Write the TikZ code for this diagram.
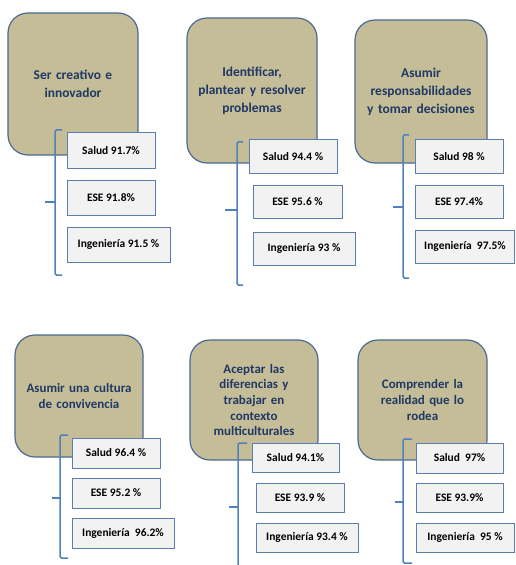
\documentclass[tikz,border=0pt]{standalone}
\usepackage{fontspec}
\setmainfont{Carlito}
\definecolor{tanfill}{HTML}{C4BD97}
\definecolor{tanborder}{HTML}{4A6A92}
\definecolor{titletext}{HTML}{1F3864}
\definecolor{brk}{HTML}{4F81BD}
\definecolor{smallfill}{HTML}{F2F2F2}
\definecolor{smallborder}{HTML}{5B7DB1}
\tikzset{
  titlebox/.style={draw=tanborder, fill=tanfill, line width=1.2bp, rounded corners=20bp,
    align=center, text=titletext, inner sep=2bp, text width=118bp},
  toptitle/.style={titlebox, font=\bfseries\fontsize{13.5}{18}\selectfont},
  bottitle/.style={titlebox, font=\bfseries\fontsize{13}{15.8}\selectfont},
  smallbox/.style={draw=smallborder, fill=smallfill, line width=1bp, inner sep=0pt,
    font=\bfseries\fontsize{11.5}{13}\selectfont, text=black},
  brkline/.style={draw=brk, line width=1.5bp, rounded corners=1.5bp},
}
\newcommand\mybracket[7]{% name, x, top, bottom, mid, right end, left end
  \coordinate (#1t) at (#6,#3);
  \coordinate (#1tc) at (#2,#3);
  \coordinate (#1bc) at (#2,#4);
  \coordinate (#1b) at (#6,#4);
  \coordinate (#1mc) at (#2,#5);
  \coordinate (#1m) at (#7,#5);
  \draw[brkline] (#1t) -- (#1tc) -- (#1bc) -- (#1b);
  \draw[brkline] (#1mc) -- (#1m);
}
\begin{document}
\begin{tikzpicture}[x=1bp, y=-1bp]
\useasboundingbox (0,0) rectangle (516,565);

% ---------- Group 1
\node[toptitle, minimum width=130bp, minimum height=142bp] (t1) at (73,84) {Ser creativo e\\innovador};
\mybracket{k1}{55}{130}{275}{202}{62}{45}
\node[smallbox, minimum width=88bp, minimum height=35bp] (s1) at (111,150.5) {Salud 91.7\%};
\node[smallbox, minimum width=88bp, minimum height=35bp] (e1) at (111,197.5) {ESE 91.8\%};
\node[smallbox, minimum width=103bp, minimum height=35bp] (i1) at (118.5,244.5) {Ingeniería 91.5 \%};

% ---------- Group 2
\node[toptitle, minimum width=130bp, minimum height=145bp] (t2) at (252,90.5) {Identificar,\\plantear y resolver\\problemas};
\mybracket{k2}{237}{142}{285}{210}{243}{225}
\node[smallbox, minimum width=88bp, minimum height=33bp] (s2) at (293,156.5) {Salud 94.4 \%};
\node[smallbox, minimum width=89bp, minimum height=33bp] (e2) at (297.5,201.5) {ESE 95.6 \%};
\node[smallbox, minimum width=102bp, minimum height=33bp] (i2) at (304,248.5) {Ingeniería 93 \%};

% ---------- Group 3
\node[toptitle, minimum width=132bp, minimum height=143bp] (t3) at (421,91.5) {Asumir\\responsabilidades\\y tomar decisiones};
\mybracket{k3}{403}{135}{278}{207}{409}{393}
\node[smallbox, minimum width=88bp, minimum height=33bp] (s3) at (459,156.5) {Salud 98 \%};
\node[smallbox, minimum width=88bp, minimum height=33bp] (e3) at (459,201.5) {ESE 97.4\%};
\node[smallbox, minimum width=99bp, minimum height=33bp] (i3) at (465,246.5) {Ingeniería\ \ 97.5\%};

% ---------- Group 4
\node[bottitle, minimum width=128bp, minimum height=122bp] (t4) at (79,396) {Asumir una cultura\\de convivencia};
\mybracket{k4}{60}{435}{558}{498}{68}{52}
\node[smallbox, minimum width=88bp, minimum height=30bp] (s4) at (116,453) {Salud 96.4 \%};
\node[smallbox, minimum width=88bp, minimum height=30bp] (e4) at (116,493) {ESE 95.2 \%};
\node[smallbox, minimum width=102bp, minimum height=30bp] (i4) at (123,533) {Ingeniería\ \ 96.2\%};

% ---------- Group 5
\node[bottitle, minimum width=128bp, minimum height=120bp] (t5) at (254,400) {Aceptar las\\diferencias y\\trabajar en\\contexto\\multiculturales};
\mybracket{k5}{238}{443}{570}{507}{247}{229}
\node[smallbox, minimum width=87bp, minimum height=29bp] (s5) at (295.5,457.5) {Salud 94.1\%};
\node[smallbox, minimum width=88bp, minimum height=29bp] (e5) at (300,497.5) {ESE 93.9 \%};
\node[smallbox, minimum width=102bp, minimum height=29bp] (i5) at (307,537.5) {Ingeniería 93.4 \%};

% ---------- Group 6
\node[bottitle, minimum width=129bp, minimum height=120bp] (t6) at (422.5,400) {Comprender la\\realidad que lo\\rodea};
\mybracket{k6}{403}{439}{563}{502}{412}{395}
\node[smallbox, minimum width=87bp, minimum height=30bp] (s6) at (459.5,458) {Salud\ \ 97\%};
\node[smallbox, minimum width=87bp, minimum height=29bp] (e6) at (459.5,497.5) {ESE 93.9\%};
\node[smallbox, minimum width=98bp, minimum height=29bp] (i6) at (465,537.5) {Ingeniería\ \ 95 \%};
\end{tikzpicture}
\end{document}
